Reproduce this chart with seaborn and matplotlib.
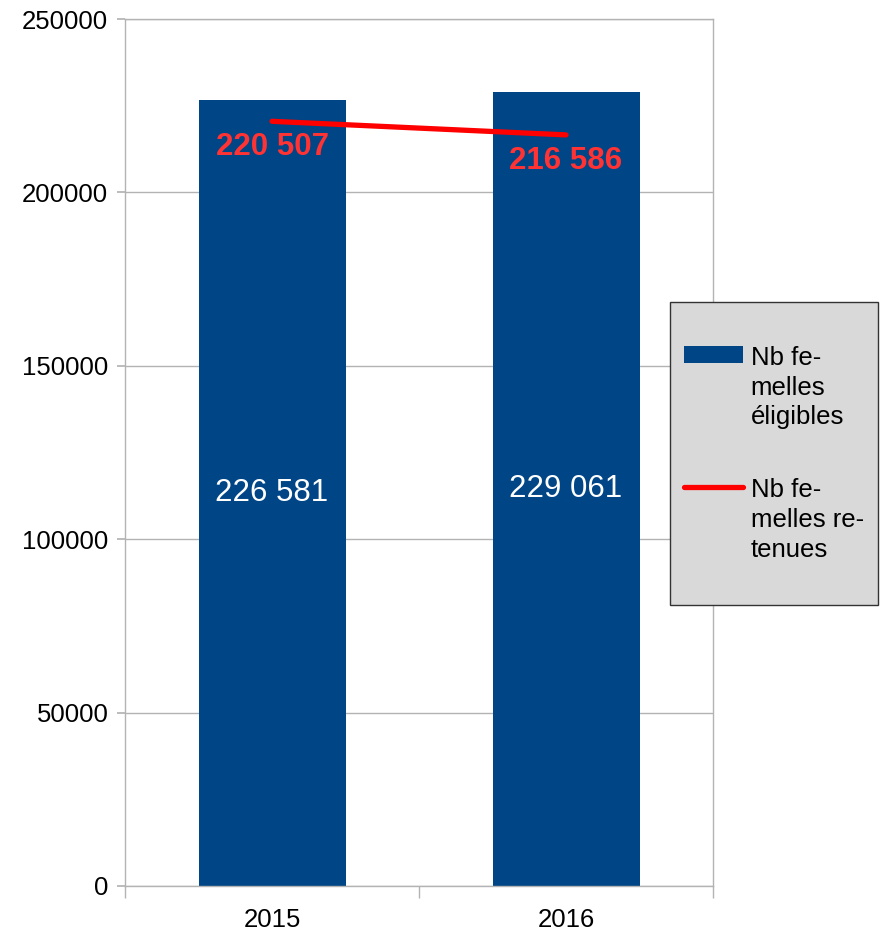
import numpy as np
import pandas as pd
import matplotlib.pyplot as plt
import seaborn as sns
from matplotlib.patches import Rectangle

years = ["2015", "2016"]
eligibles = [226581, 229061]
retenues = [220507, 216586]
labels_elig = ["226 581", "229 061"]
labels_ret = ["220 507", "216 586"]
legend_labels = ["Nb fe-\nmelles\néligibles", "Nb fe-\nmelles re-\ntenues"]

sns.set_theme(style="white")
plt.rcParams["font.family"] = ["Liberation Sans", "DejaVu Sans"]
plt.rcParams["text.color"] = "black"

grey = "#b3b3b3"
blue = "#004586"

fig = plt.figure(figsize=(8.83, 9.33), dpi=100)
ax = fig.add_axes([0.1416, 0.0504, 0.8075 - 0.1416, 0.9796 - 0.0504])

df = pd.DataFrame({"year": years, "elig": eligibles, "ret": retenues})

sns.barplot(data=df, x="year", y="elig", color=blue, saturation=1, width=0.5, ax=ax,
            linewidth=0, edgecolor=blue, label=legend_labels[0])
sns.pointplot(data=df, x="year", y="ret", color="#ff0000", markers="", lw=3.8, ax=ax,
              label=legend_labels[1])
if ax.get_legend() is not None:
    ax.get_legend().remove()

ax.bar_label(ax.containers[0], labels=labels_elig, label_type="center",
             color="white", fontsize=22.5)
for i, (v, t) in enumerate(zip(retenues, labels_ret)):
    ax.annotate(t, (i, v), xytext=(0, -18.5), textcoords="offset points",
                ha="center", va="center", color="#ff3333", fontsize=22.5,
                fontweight="bold")

ax.set_xlim(-0.5, 1.5)
ax.set_ylim(0, 250000)
ax.set_yticks(np.arange(0, 250001, 50000))
ax.set_xlabel("")
ax.set_ylabel("")
ax.yaxis.grid(True, color=grey, lw=1)
ax.set_axisbelow(True)
for s in ax.spines.values():
    s.set_color(grey)
    s.set_linewidth(1)

ax.tick_params(axis="y", left=True, length=6, color=grey, pad=6, labelsize=18.5,
               labelcolor="black")
ax.set_xticks([-0.5, 0.5, 1.5], minor=True)
ax.tick_params(axis="x", which="minor", bottom=True, length=8.5, color=grey)
ax.tick_params(axis="x", which="major", length=0, pad=16, labelsize=18.5,
               labelcolor="black")

# legend box drawn separately so its padding matches
box = Rectangle((670 / 883, 1 - 605 / 933), 208 / 883, 303 / 933,
                transform=fig.transFigure, facecolor="#d9d9d9",
                edgecolor="#333333", lw=1, zorder=1)
fig.patches.append(box)

handles, labels = ax.get_legend_handles_labels()
order = [labels.index(legend_labels[0]), labels.index(legend_labels[1])]
leg = fig.legend([handles[i] for i in order], [labels[i] for i in order],
                 loc="upper left", bbox_to_anchor=(684 / 883, 1 - 346 / 933),
                 fontsize=18.5, frameon=False, borderpad=0, borderaxespad=0,
                 labelspacing=1.9, handlelength=2.3, handleheight=0.62,
                 handletextpad=0.3)
for t in leg.get_texts():
    t.set_linespacing(1.3)
    t.set_color("black")
for col in leg._legend_handle_box.get_children():
    for item in col.get_children():
        item.align = "top"

fig.savefig("out.png", dpi=100)
